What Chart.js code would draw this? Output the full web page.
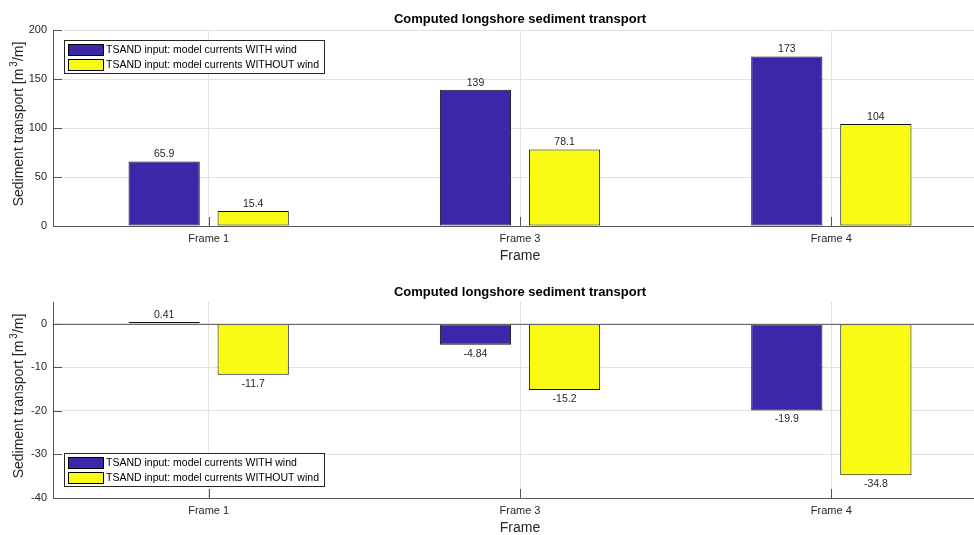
<!DOCTYPE html>
<html>
<head>
<meta charset="utf-8">
<script src="https://cdn.jsdelivr.net/npm/chart.js@4.4.1/dist/chart.umd.min.js"></script>
<style>
  html, body { margin: 0; padding: 0; background: #fff; overflow: hidden; width: 974px; height: 535px; }
  .panel { position: absolute; left: 0; width: 1000px; height: 268px; }
  #p1 { top: 0; }
  #p2 { top: 270px; }
</style>
</head>
<body>
<div class="panel" id="p1"><canvas id="c1" width="1000" height="268"></canvas></div>
<div class="panel" id="p2"><canvas id="c2" width="1000" height="268"></canvas></div>
<script>
// Frames and computed transport values [m3/m]
const categories = ['Frame 1', 'Frame 3', 'Frame 4'];
const seriesNames = ['TSAND input: model currents WITH wind', 'TSAND input: model currents WITHOUT wind'];
const grossWithWind = [65.9, 139, 173];
const grossWithoutWind = [15.4, 78.1, 104];
const netWithWind = [0.41, -4.84, -19.9];
const netWithoutWind = [-11.7, -15.2, -34.8];
const topTicks = [0, 50, 100, 150, 200];
const bottomTicks = [-40, -30, -20, -10, 0];
const chartTitle = 'Computed longshore sediment transport';
const xTitle = 'Frame';

const BLUE = '#3e26a8';
const YELLOW = '#f9fb15';
const AXIS = '#555555';
const GRID = '#e2e2e2';
const TEXT = '#262626';
const FONT = '"Liberation Sans", Arial, Helvetica, sans-serif';

function fmt(v) { return String(v); }

// Draws titles, inward ticks, value labels and the boxed legend
const decorations = {
  id: 'decorations',
  afterDatasetsDraw(chart, args, opts) {
    const ctx = chart.ctx;
    const area = chart.chartArea;
    const xs = chart.scales.x, ys = chart.scales.y;
    ctx.save();

    // zero baseline
    if (opts.baseline) {
      const y0 = Math.round(ys.getPixelForValue(0)) + 0.5;
      ctx.strokeStyle = '#6a6a6a';
      ctx.lineWidth = 1;
      ctx.beginPath(); ctx.moveTo(area.left, y0); ctx.lineTo(area.right, y0); ctx.stroke();
    }

    // inward tick marks
    ctx.strokeStyle = AXIS;
    ctx.lineWidth = 1;
    const tl = 9;
    ys.ticks.forEach(t => {
      const y = Math.round(ys.getPixelForValue(t.value)) + 0.5;
      ctx.beginPath(); ctx.moveTo(area.left, y); ctx.lineTo(area.left + tl, y); ctx.stroke();
    });
    categories.forEach((c, i) => {
      const x = Math.round(xs.getPixelForValue(i)) + 0.5;
      ctx.beginPath(); ctx.moveTo(x, area.bottom); ctx.lineTo(x, area.bottom - tl); ctx.stroke();
    });

    // value labels
    ctx.fillStyle = TEXT;
    ctx.font = '10.5px ' + FONT;
    ctx.textAlign = 'center';
    ctx.textBaseline = 'alphabetic';
    chart.data.datasets.forEach((ds, di) => {
      const meta = chart.getDatasetMeta(di);
      meta.data.forEach((bar, i) => {
        const v = ds.data[i];
        if (v >= 0) ctx.fillText(fmt(v), bar.x, Math.min(bar.y, bar.base) - 4);
        else ctx.fillText(fmt(v), bar.x, Math.max(bar.y, bar.base) + 12);
      });
    });

    // title
    const cx = (area.left + area.right) / 2;
    ctx.fillStyle = '#000';
    ctx.font = 'bold 13px ' + FONT;
    ctx.textBaseline = 'alphabetic';
    ctx.fillText(chartTitle, cx, opts.titleY);

    // x-axis title
    ctx.fillStyle = TEXT;
    ctx.font = '14px ' + FONT;
    ctx.textBaseline = 'middle';
    ctx.fillText(xTitle, cx, opts.xTitleY);

    // y-axis title with superscript
    ctx.save();
    ctx.translate(23, opts.yTitleY);
    ctx.rotate(-Math.PI / 2);
    ctx.textBaseline = 'alphabetic';
    ctx.textAlign = 'left';
    const p1 = 'Sediment transport [m', p2 = '3', p3 = '/m]';
    ctx.font = '14px ' + FONT;
    const w1 = ctx.measureText(p1).width;
    const w3 = ctx.measureText(p3).width;
    ctx.font = '10px ' + FONT;
    const w2 = ctx.measureText(p2).width;
    const gap = 2;
    const total = w1 + gap + w2 + w3;
    let x = -total / 2;
    ctx.font = '14px ' + FONT;
    ctx.fillText(p1, x, 0);
    x += w1 + gap;
    ctx.font = '10px ' + FONT;
    ctx.fillText(p2, x, -6);
    x += w2;
    ctx.font = '14px ' + FONT;
    ctx.fillText(p3, x, 0);
    ctx.restore();

    // legend box
    const lx = 64, lw = 260, lh = 33;
    const ly = opts.legendTop;
    ctx.fillStyle = '#fff';
    ctx.fillRect(lx, ly, lw, lh);
    ctx.strokeStyle = TEXT;
    ctx.lineWidth = 1;
    ctx.strokeRect(lx + 0.5, ly + 0.5, lw, lh);
    ctx.font = '10.5px ' + FONT;
    ctx.textAlign = 'left';
    ctx.textBaseline = 'middle';
    chart.data.datasets.forEach((ds, di) => {
      const sy = ly + 4 + di * 15;
      ctx.fillStyle = ds.backgroundColor;
      ctx.fillRect(lx + 4.5, sy + 0.5, 35, 11);
      ctx.strokeStyle = '#000';
      ctx.strokeRect(lx + 4.5, sy + 0.5, 35, 11);
      ctx.fillStyle = '#000';
      ctx.fillText(ds.label, lx + 42, sy + 6.5);
    });

    ctx.restore();
  }
};

function makeChart(canvasId, dataA, dataB, ticks, yMin, yMax, pad, extra) {
  return new Chart(document.getElementById(canvasId), {
    type: 'bar',
    data: {
      labels: categories,
      datasets: [
        { label: seriesNames[0], data: dataA, backgroundColor: BLUE, borderColor: '#111', borderWidth: 1, borderSkipped: false },
        { label: seriesNames[1], data: dataB, backgroundColor: YELLOW, borderColor: '#111', borderWidth: 1, borderSkipped: false }
      ]
    },
    options: {
      responsive: false,
      animation: false,
      devicePixelRatio: 1,
      categoryPercentage: 0.572,
      barPercentage: 0.8,
      layout: { padding: pad },
      plugins: {
        legend: { display: false },
        tooltip: { enabled: false },
        title: { display: false },
        decorations: extra
      },
      scales: {
        x: {
          offset: true,
          grid: { offset: false, color: GRID, drawTicks: false },
          border: { display: true, color: AXIS },
          ticks: { color: TEXT, font: { family: FONT, size: 11 }, padding: 6, maxRotation: 0 },
          afterFit(s) { s.height = 20; }
        },
        y: {
          min: yMin,
          max: yMax,
          grid: { color: GRID, drawTicks: false },
          border: { display: true, color: AXIS },
          ticks: { color: TEXT, font: { family: FONT, size: 11 }, padding: 6, includeBounds: false },
          afterBuildTicks(s) { s.ticks = ticks.map(v => ({ value: v })); },
          afterFit(s) { s.width = 53; }
        }
      }
    },
    plugins: [decorations]
  });
}

makeChart('c1', grossWithWind, grossWithoutWind, topTicks, 0, 200,
  { left: 0, right: 13, top: 30, bottom: 22 },
  { baseline: false, titleY: 23, xTitleY: 256, yTitleY: 124, legendTop: 40 });

makeChart('c2', netWithWind, netWithoutWind, bottomTicks, -40, 5,
  { left: 0, right: 13, top: 32, bottom: 20 },
  { baseline: true, titleY: 26, xTitleY: 258, yTitleY: 126, legendTop: 183 });
</script>
</body>
</html>
